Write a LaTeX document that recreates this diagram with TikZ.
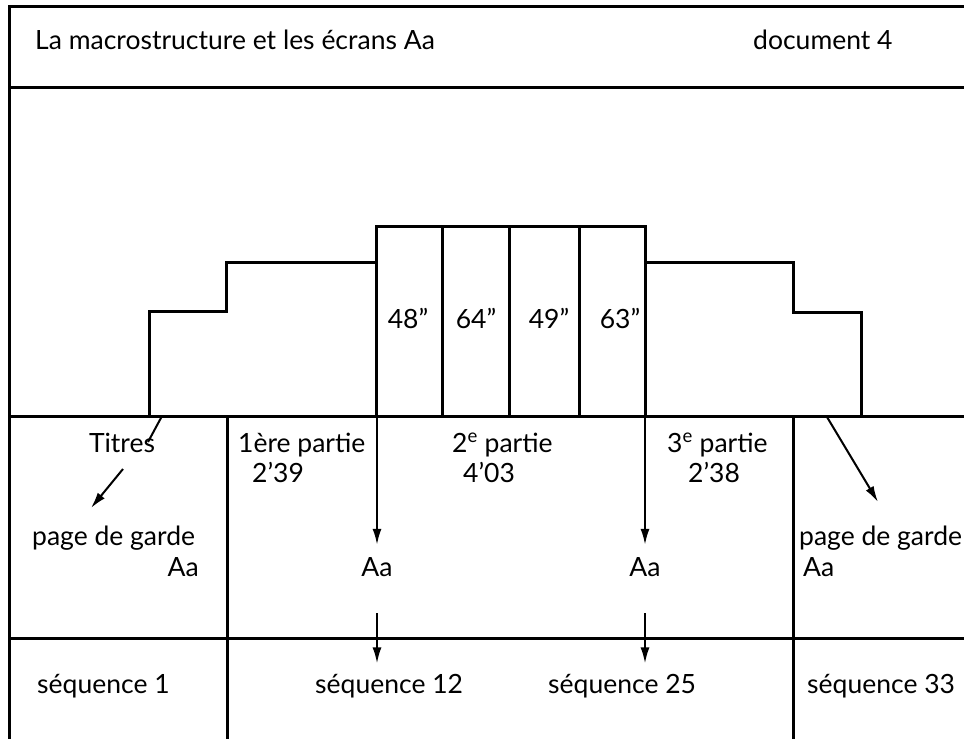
\documentclass[tikz,border=0pt]{standalone}
\usepackage{fontspec}
\setmainfont{Lato}
\usetikzlibrary{arrows.meta}

\tikzset{
  frame/.style = {line width = 3pt},
  bar/.style = {line width = 3pt, line join = miter},
  pointer/.style = {line width = 2pt, -{Latex[length = 16pt, width = 9pt]}},
  lbl/.style = {inner sep = 0pt, font = \fontsize{26.5}{30}\selectfont}
}

\begin{document}
\begin{tikzpicture}[x = 1pt, y = -1pt]
	 \useasboundingbox (0, 0) rectangle (964, 739);

	 % frame and rows
	 \draw[frame] (9, 739) -- (9, 6) -- (964, 6);
	 \draw[frame] (9, 87) -- (964, 87);
	 \draw[frame] (9, 416) -- (964, 416);
	 \draw[frame] (9, 638) -- (964, 638);
	 \draw[frame] (227, 416) -- (227, 739);
	 \draw[frame] (793, 416) -- (793, 739);

	 % histogram of the parts
	 \draw[bar] (149, 416) -- (149, 311) -- (226, 311) -- (226, 262) -- (376, 262) -- (376, 226)
	   -- (645, 226) -- (645, 262) -- (793, 262) -- (793, 312) -- (861, 312) -- (861, 416);
	 \foreach \x in {376, 442, 509, 579, 645}
	 \draw[bar] (\x, 226) -- (\x, 416);

	 % header
	 \node[lbl, anchor = base west] (title) at (35, 49) {La macrostructure et les écrans Aa};
	 \node[lbl, anchor = base west] (docnum) at (753, 49) {document 4};

	 % durations
	 \node[lbl, anchor = base] (d48) at (408, 328) {48''};
	 \node[lbl, anchor = base] (d64) at (476, 328) {64''};
	 \node[lbl, anchor = base] (d49) at (549, 328) {49''};
	 \node[lbl, anchor = base] (d63) at (620, 328) {63''};

	 % parts
	 \node[lbl, anchor = base] (titres) at (122, 452) {Titres};
	 \node[lbl, anchor = base west] (part1) at (238, 452) {1ère partie};
	 \node[lbl, anchor = base west] (time1) at (252, 482) {2'39};
	 \node[lbl, anchor = base west] (part2) at (452, 452) {2\textsuperscript{e} partie};
	 \node[lbl, anchor = base west] (time2) at (463, 482) {4'03};
	 \node[lbl, anchor = base west] (part3) at (667, 452) {3\textsuperscript{e} partie};
	 \node[lbl, anchor = base west] (time3) at (688, 482) {2'38};

	 % screens
	 \node[lbl, anchor = base west] (gardeL) at (32, 545) {page de garde};
	 \node[lbl, anchor = base east] (aaL) at (199, 576) {Aa};
	 \node[lbl, anchor = base] (aa1) at (377, 576) {Aa};
	 \node[lbl, anchor = base] (aa2) at (645, 576) {Aa};
	 \node[lbl, anchor = base west] (gardeR) at (799, 545) {page de garde};
	 \node[lbl, anchor = base west] (aaR) at (803, 576) {Aa};

	 % sequences
	 \node[lbl, anchor = base west] (seq1) at (37, 693) {séquence 1};
	 \node[lbl, anchor = base west] (seq12) at (315, 693) {séquence 12};
	 \node[lbl, anchor = base west] (seq25) at (548, 693) {séquence 25};
	 \node[lbl, anchor = base west] (seq33) at (807, 693) {séquence 33};

	 % arrows
	 \coordinate (tb) at (162, 416);
	 \coordinate (te) at (148, 442);
	 \coordinate (ta) at (123, 469);
	 \coordinate (tz) at (91, 508);
	 \coordinate (rb) at (827, 417);
	 \coordinate (rz) at (878, 502);
	 \draw[line width = 2pt] (tb) -- (te);
	 \draw[pointer] (ta) -- (tz);
	 \draw[pointer] (rb) -- (rz);
	 \draw[pointer] (377, 416) -- ([yshift = 12pt]aa1.north);
	 \draw[pointer] (645, 416) -- ([yshift = 12pt]aa2.north);
	 \draw[pointer] ([yshift = -37pt]aa1.south) -- ([yshift = -87pt]aa1.south);
	 \draw[pointer] ([yshift = -37pt]aa2.south) -- ([yshift = -87pt]aa2.south);
\end{tikzpicture}
\end{document}
